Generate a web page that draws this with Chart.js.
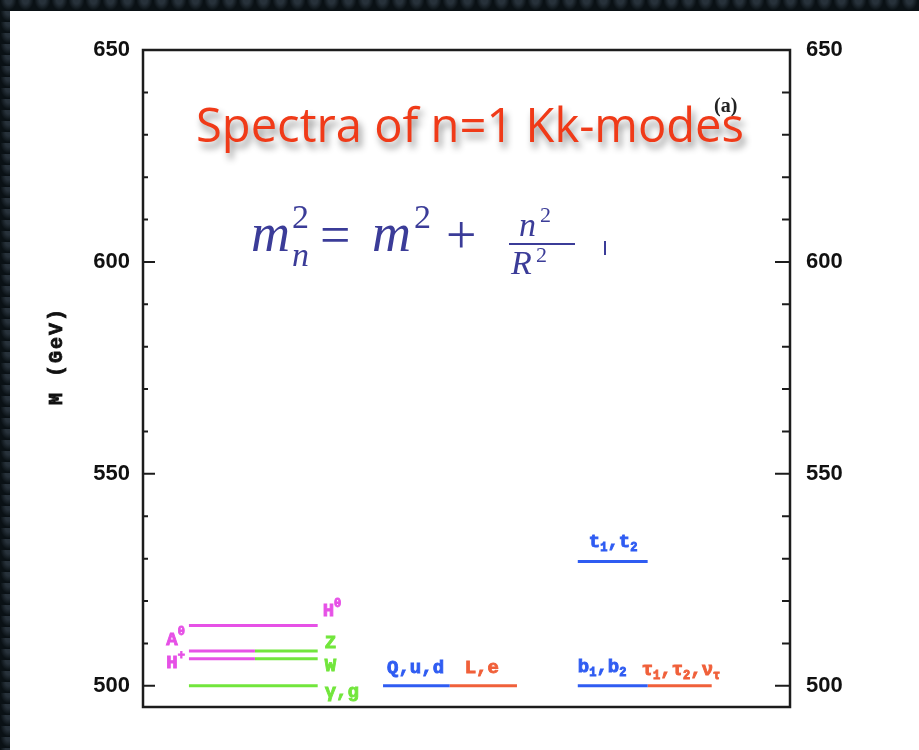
<!DOCTYPE html>
<html>
<head>
<meta charset="utf-8">
<title>KK spectrum</title>
<script src="https://cdn.jsdelivr.net/npm/chart.js@4.4.1/dist/chart.umd.min.js"></script>
<style>
  html, body {
    margin: 0;
    padding: 0;
    width: 919px;
    height: 750px;
    overflow: hidden;
    background-color: #0a1115;
    background-image: radial-gradient(ellipse at 50% 0%, #27313a 0 3px, transparent 8px);
    background-size: 17px 11px;
  }
  #spectrum {
    position: absolute;
    left: 0;
    top: 0;
  }
</style>
</head>
<body>
<canvas id="spectrum" width="919" height="750"></canvas>
<script>
// n=1 KK levels: name, mass (GeV) and horizontal span of each bar
const levelNames  = ['H^0', 'A^0', 'Z', 'H^+', 'W', 'γ,g', 'Q,u,d', 'L,e', 't_1,t_2', 'b_1,b_2', 'τ_1,τ_2,ν_τ'];
const levelMass   = [514.2, 508.2, 508.2, 506.4, 506.4, 500, 500, 500, 529.3, 500, 500];
const levelStart  = [7.1, 7.1, 17.3, 7.1, 17.3, 7.1, 37.1, 47.4, 67.2, 67.2, 78.0];
const levelEnd    = [27.0, 17.3, 27.0, 17.3, 27.0, 27.0, 47.4, 57.8, 78.0, 78.0, 87.9];
const levelColors = ['#e651e6', '#e651e6', '#72e63c', '#e651e6', '#72e63c', '#72e63c',
                     '#2f5cf2', '#f0603a', '#2f5cf2', '#2f5cf2', '#f0603a'];

const massTicks = [500, 550, 600, 650];

// where each name sits next to its bar: side of the bar, pixel offsets
const labelPlace = [
  {side: 'end',   dx: 5,  dy: -14},
  {side: 'start', dx: -4, dy: -11, align: 'right'},
  {side: 'end',   dx: 7,  dy: -8},
  {side: 'start', dx: -4, dy: 5,  align: 'right'},
  {side: 'end',   dx: 7,  dy: 8},
  {side: 'end',   dx: 7,  dy: 6},
  {side: 'start', dx: 4,  dy: -18},
  {side: 'start', dx: 15, dy: -18},
  {side: 'start', dx: 11, dy: -19},
  {side: 'start', dx: 0,  dy: -19},
  {side: 'start', dx: -6, dy: -16}
];

const datasets = levelNames.map((name, i) => ({
  label: name,
  data: [{x: levelStart[i], y: levelMass[i]}, {x: levelEnd[i], y: levelMass[i]}],
  showLine: true,
  borderColor: levelColors[i],
  borderWidth: 3,
  pointRadius: 0,
  yAxisID: 'y'
}));

// split "t_1,t_2" into normal / sub / sup pieces
function parseLabel(str) {
  const parts = [];
  let buf = '';
  for (let i = 0; i < str.length; i++) {
    const c = str[i];
    if ((c === '_' || c === '^') && i + 1 < str.length) {
      if (buf) { parts.push([buf, 'n']); buf = ''; }
      parts.push([str[i + 1], c === '_' ? 'sub' : 'sup']);
      i++;
    } else {
      buf += c;
    }
  }
  if (buf) parts.push([buf, 'n']);
  return parts;
}

function drawParts(ctx, parts, x, y, size, family, align) {
  const small = Math.round(size * 0.62);
  let total = 0;
  parts.forEach(p => {
    ctx.font = 'bold ' + (p[1] === 'n' ? size : small) + 'px ' + family;
    total += ctx.measureText(p[0]).width;
  });
  let cx = align === 'right' ? x - total : x;
  ctx.textAlign = 'left';
  ctx.textBaseline = 'middle';
  ctx.lineWidth = 0.9;
  parts.forEach(p => {
    const sz = p[1] === 'n' ? size : small;
    ctx.font = 'bold ' + sz + 'px ' + family;
    let yy = y;
    if (p[1] === 'sub') yy = y + size * 0.3;
    if (p[1] === 'sup') yy = y - size * 0.4;
    ctx.fillText(p[0], cx, yy);
    ctx.strokeText(p[0], cx, yy);
    cx += ctx.measureText(p[0]).width;
  });
}

// fixed 10 GeV steps so that 500 keeps its tick even though the axis starts at 495
function massStepTicks(scale) {
  const ticks = [];
  for (let v = 500; v <= 650; v += 10) ticks.push({value: v});
  scale.ticks = ticks;
}

const panelPlugin = {
  id: 'panel',
  beforeDraw(chart) {
    const ctx = chart.ctx;
    ctx.save();
    ctx.fillStyle = '#ffffff';
    ctx.fillRect(10, 11, chart.width - 10, chart.height - 11);
    ctx.restore();
  }
};

const framePlugin = {
  id: 'frame',
  afterDraw(chart) {
    const ctx = chart.ctx;
    const a = chart.chartArea;
    const ys = chart.scales.y;
    const xs = chart.scales.x;
    ctx.save();

    // frame and inward ticks
    ctx.strokeStyle = '#1c1c1c';
    ctx.lineWidth = 2.5;
    ctx.strokeRect(a.left, a.top, a.right - a.left, a.bottom - a.top);
    ctx.lineWidth = 2;
    ys.ticks.forEach(t => {
      const py = ys.getPixelForValue(t.value);
      const major = t.value % 50 === 0;
      ctx.beginPath();
      ctx.moveTo(a.left, py);
      ctx.lineTo(a.left + (major ? 12 : 5), py);
      ctx.moveTo(a.right, py);
      ctx.lineTo(a.right - (major ? 15 : 8), py);
      ctx.stroke();
    });

    // axis title
    ctx.save();
    ctx.translate(57, 356);
    ctx.rotate(-Math.PI / 2);
    ctx.fillStyle = '#111';
    ctx.strokeStyle = '#111';
    ctx.lineWidth = 0.8;
    ctx.font = 'bold 20px "Liberation Mono"';
    ctx.letterSpacing = '2px';
    ctx.textAlign = 'center';
    ctx.textBaseline = 'middle';
    ctx.fillText('M (GeV)', 0, 0);
    ctx.strokeText('M (GeV)', 0, 0);
    ctx.restore();

    // level names
    levelNames.forEach((name, i) => {
      const pl = labelPlace[i];
      const px = xs.getPixelForValue(pl.side === 'end' ? levelEnd[i] : levelStart[i]) + pl.dx;
      const py = ys.getPixelForValue(levelMass[i]) + pl.dy;
      ctx.fillStyle = levelColors[i];
      ctx.strokeStyle = levelColors[i];
      drawParts(ctx, parseLabel(name), px, py, 19, '"Liberation Mono"', pl.align);
    });

    // panel tag
    ctx.fillStyle = '#222';
    ctx.font = 'bold 20px "Liberation Serif"';
    ctx.textAlign = 'left';
    ctx.textBaseline = 'alphabetic';
    ctx.fillText('(a)', 714, 112);

    // heading with soft drop shadow
    ctx.save();
    const title = 'Spectra of n=1 Kk-modes';
    let size = 40;
    ctx.font = size + 'px "Open Sans"';
    size = size * 548 / ctx.measureText(title).width;
    ctx.font = size + 'px "Open Sans"';
    ctx.shadowColor = 'rgba(0,0,0,0.45)';
    ctx.shadowBlur = 7;
    ctx.shadowOffsetX = 3;
    ctx.shadowOffsetY = 6;
    ctx.fillStyle = '#f03a18';
    ctx.fillText(title, 196, 142);
    ctx.restore();

    // mass formula
    ctx.fillStyle = '#3b3c98';
    const big = 'italic 54px "Liberation Serif"';
    const roman = '54px "Liberation Serif"';
    const sml = '34px "Liberation Serif"';
    const smlIt = 'italic 34px "Liberation Serif"';
    ctx.font = big;  ctx.fillText('m', 251, 251);
    ctx.font = sml;  ctx.fillText('2', 292, 228);
    ctx.font = smlIt; ctx.fillText('n', 292, 266);
    ctx.font = roman; ctx.fillText('=', 320, 253);
    ctx.font = big;  ctx.fillText('m', 372, 251);
    ctx.font = sml;  ctx.fillText('2', 414, 228);
    ctx.font = roman; ctx.fillText('+', 446, 253);
    ctx.font = smlIt; ctx.fillText('n', 519, 236);
    ctx.font = '22px "Liberation Serif"'; ctx.fillText('2', 540, 222);
    ctx.fillRect(509, 243, 66, 2);
    ctx.font = smlIt; ctx.fillText('R', 511, 274);
    ctx.font = '22px "Liberation Serif"'; ctx.fillText('2', 536, 262);
    ctx.fillRect(604, 241, 2, 14);

    ctx.restore();
  }
};

const tickFont = { family: '"Liberation Sans"', size: 22, weight: 'bold' };

new Chart(document.getElementById('spectrum'), {
  type: 'scatter',
  data: { datasets: datasets },
  options: {
    responsive: false,
    animation: false,
    layout: { padding: { top: 50, bottom: 43, left: 0, right: 0 } },
    plugins: {
      legend: { display: false },
      tooltip: { enabled: false }
    },
    scales: {
      x: { type: 'linear', min: 0, max: 100, display: false },
      y: {
        type: 'linear', position: 'left', min: 495, max: 650,
        afterBuildTicks: massStepTicks,
        afterFit(scale) { scale.width = 143; },
        grid: { display: false, drawTicks: false },
        border: { display: false },
        ticks: {
          padding: 13, color: '#111', font: tickFont,
          callback: v => massTicks.includes(v) ? v : ''
        }
      },
      y2: {
        type: 'linear', position: 'right', min: 495, max: 650,
        afterBuildTicks: massStepTicks,
        afterFit(scale) { scale.width = 129; },
        grid: { display: false, drawTicks: false },
        border: { display: false },
        ticks: {
          padding: 16, color: '#111', font: tickFont,
          callback: v => massTicks.includes(v) ? v : ''
        }
      }
    }
  },
  plugins: [panelPlugin, framePlugin]
});
</script>
</body>
</html>
